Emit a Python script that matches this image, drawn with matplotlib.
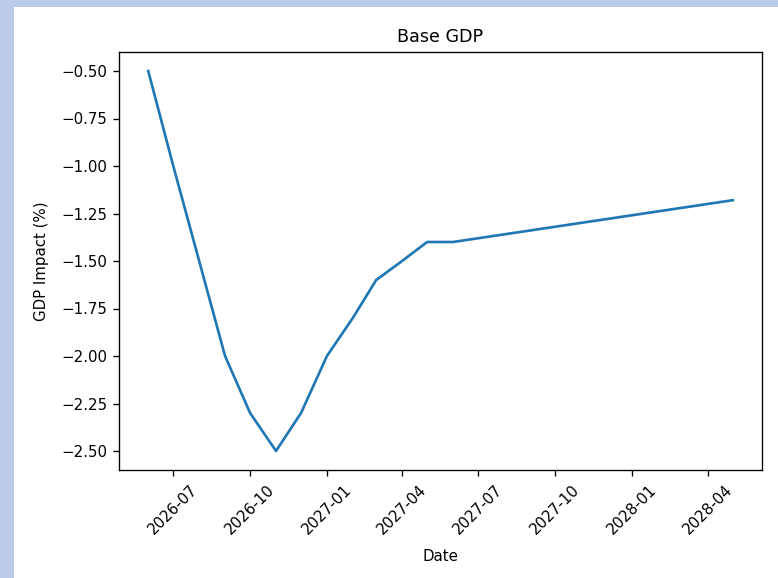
import numpy as np
import pandas as pd
import matplotlib

matplotlib.use("Agg")
import matplotlib.pyplot as plt
import matplotlib.dates as mdates
from matplotlib.patches import Rectangle

dates = ["2026-06-01", "2026-07-01", "2026-08-01", "2026-09-01", "2026-10-01",
         "2026-11-01", "2026-12-01", "2027-01-01", "2027-02-01", "2027-03-01",
         "2027-04-01", "2027-05-01", "2027-06-01", "2028-05-01"]
gdp_impact = [-0.5, -1.0, -1.5, -2.0, -2.3, -2.5, -2.3, -2.0, -1.8, -1.6,
              -1.5, -1.4, -1.4, -1.18]

df = pd.DataFrame({"date": pd.to_datetime(dates), "gdp": gdp_impact})

plt.rcParams["font.size"] = 9

DPI = 120
fig = plt.figure(figsize=(778 / DPI, 578 / DPI), dpi=DPI, facecolor="#bccbe9")
# white figure area inside the light blue frame
fig.patches.append(Rectangle((14 / 778, 0), 1 - 14 / 778, 1 - 7 / 578,
                             transform=fig.transFigure, facecolor="white",
                             edgecolor="none", zorder=-1))

ax = fig.add_axes([119 / 778, 108 / 578, (762 - 119) / 778, (470 - 52) / 578])
ax.plot(df["date"], df["gdp"], color="#1f77b4", linewidth=1.6)
ax.set_title("Base GDP", fontsize=10.5)
ax.set_xlabel("Date", labelpad=7.5)
ax.set_ylabel("GDP Impact (%)", labelpad=7.5)
ax.xaxis.set_major_locator(mdates.MonthLocator(bymonth=[1, 4, 7, 10]))
ax.xaxis.set_major_formatter(mdates.DateFormatter("%Y-%m"))
plt.setp(ax.get_xticklabels(), rotation=45)

fig.savefig("out.png", dpi=DPI)
